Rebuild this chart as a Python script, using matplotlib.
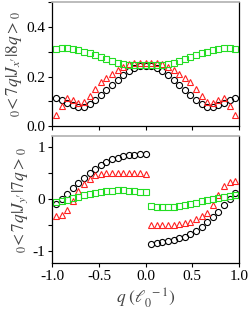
import matplotlib
matplotlib.use('Agg')
import matplotlib.pyplot as plt
from matplotlib.ticker import MultipleLocator

plt.rcParams['font.family'] = 'Liberation Serif'
plt.rcParams['mathtext.fontset'] = 'stix'

# momentum grid (l0^-1)
q = [-0.96, -0.90, -0.84, -0.78, -0.72, -0.66, -0.60, -0.54, -0.48, -0.42, -0.36,
     -0.30, -0.24, -0.18, -0.12, -0.06, 0.00, 0.06, 0.12, 0.18, 0.24, 0.30, 0.36,
     0.42, 0.48, 0.54, 0.60, 0.66, 0.72, 0.78, 0.84, 0.90, 0.96]

# top panel: <q|Jx|q>
jx_circ = [0.113, 0.104, 0.092, 0.084, 0.077, 0.076, 0.087, 0.104, 0.124, 0.144, 0.167,
           0.187, 0.207, 0.224, 0.235, 0.241, 0.244, 0.241, 0.235, 0.224, 0.207, 0.187,
           0.167, 0.144, 0.124, 0.104, 0.087, 0.076, 0.077, 0.084, 0.092, 0.104, 0.113]
jx_tri = [0.045, 0.080, 0.113, 0.107, 0.092, 0.096, 0.120, 0.148, 0.177, 0.194, 0.212,
          0.226, 0.239, 0.252, 0.254, 0.255, 0.256, 0.255, 0.254, 0.252, 0.239, 0.226,
          0.212, 0.194, 0.177, 0.148, 0.120, 0.096, 0.092, 0.107, 0.113, 0.080, 0.045]
jx_sq = [0.311, 0.316, 0.317, 0.313, 0.308, 0.300, 0.293, 0.285, 0.277, 0.269, 0.261,
         0.255, 0.250, 0.247, 0.246, 0.246, 0.246, 0.246, 0.246, 0.247, 0.250, 0.255,
         0.261, 0.269, 0.277, 0.285, 0.293, 0.300, 0.308, 0.313, 0.317, 0.316, 0.311]

# bottom panel: <q|Jy|q>
jy_circ = [-0.10, 0.00, 0.10, 0.21, 0.31, 0.41, 0.50, 0.58, 0.66, 0.72, 0.77,
           0.80, 0.83, 0.85, 0.86, 0.87, 0.875, -0.855, -0.845, -0.83, -0.81, -0.785,
           -0.755, -0.72, -0.67, -0.61, -0.53, -0.44, -0.34, -0.24, -0.11, 0.00, 0.115]
jy_tri = [-0.33, -0.31, -0.21, -0.03, 0.16, 0.30, 0.40, 0.46, 0.49, 0.50, 0.51,
          0.51, 0.51, 0.51, 0.50, 0.50, 0.49, -0.49, -0.49, -0.50, -0.50, -0.49,
          -0.48, -0.46, -0.43, -0.39, -0.33, -0.26, -0.12, 0.08, 0.25, 0.34, 0.36]
jy_sq = [-0.05, -0.035, -0.01, 0.02, 0.05, 0.08, 0.105, 0.125, 0.14, 0.155, 0.165,
         0.17, 0.17, 0.165, 0.155, 0.145, 0.14, -0.123, -0.148, -0.154, -0.154, -0.148,
         -0.129, -0.11, -0.084, -0.065, -0.04, -0.02, 0.005, 0.025, 0.05, 0.07, 0.083]

fig = plt.figure(figsize=(2.49, 3.12), dpi=100)
ax1 = fig.add_axes([0.210, 0.596, 0.750, 0.397])
ax2 = fig.add_axes([0.210, 0.157, 0.750, 0.407])

mk = dict(linestyle='none', markerfacecolor='none', markersize=4.4, markeredgewidth=0.8)


def draw(ax, c, t, s):
    ax.plot(q, c, 'o', color='black', **mk)
    ax.plot(q, t, '^', color='#ff2020', **mk)
    ax.plot(q, s, 's', color='#22dd22', **mk)


draw(ax1, jx_circ, jx_tri, jx_sq)
draw(ax2, jy_circ, jy_tri, jy_sq)

for ax in (ax1, ax2):
    ax.set_xlim(-1.0, 1.0)
    ax.xaxis.set_major_locator(MultipleLocator(0.5))
    ax.tick_params(direction='out', length=3, width=0.8, labelsize=11, pad=2)
    ax.tick_params(which='minor', direction='out', length=3, width=0.8)
    for side in ('left', 'bottom', 'right'):
        ax.spines[side].set_linewidth(0.9)
    ax.spines['top'].set_color('#b0b0b0')
    ax.spines['top'].set_linewidth(1.2)

ax1.set_ylim(0.0, 0.5)
ax1.yaxis.set_major_locator(MultipleLocator(0.2))
ax1.yaxis.set_minor_locator(MultipleLocator(0.1))
ax1.set_xticklabels([])
ax1.set_ylabel(r'$_0\!<7q|J_{x\prime}|8q>_0$', fontsize=12.5, color='#444444', labelpad=2)

ax2.set_ylim(-1.23, 1.22)
ax2.yaxis.set_major_locator(MultipleLocator(1))
ax2.yaxis.set_minor_locator(MultipleLocator(0.5))
ax2.set_ylabel(r'$_0\!<7q|J_{y\prime}|7q>_0$', fontsize=12.5, color='#444444', labelpad=2)
ax2.set_xlabel(r'$q\ (\ell_0^{\ -1})$', fontsize=12.5, color='#444444', labelpad=2)
ax2.set_xticks([-1.0, -0.5, 0.0, 0.5, 1.0])
ax2.set_xticklabels(['-1.0', '-0.5', '0.0', '0.5', '1.0'])
ax2.set_yticks([-1, 0, 1])
ax2.set_yticklabels(['-1', '0', '1'])

fig.savefig('out.png', dpi=100)
